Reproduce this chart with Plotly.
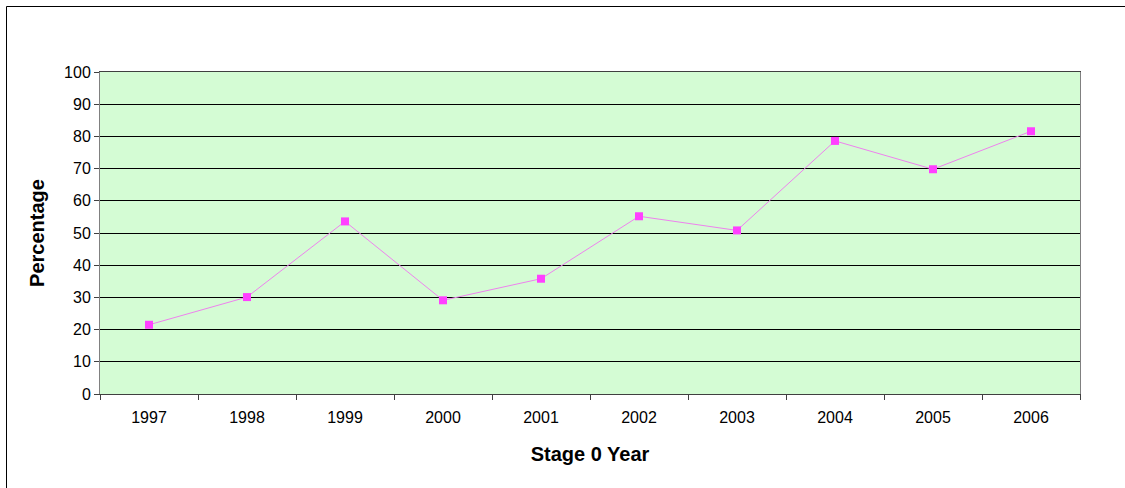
import plotly.graph_objects as go

years = ["1997", "1998", "1999", "2000", "2001", "2002", "2003", "2004", "2005", "2006"]
percentage = [21.5, 30.1, 53.6, 29.1, 35.8, 55.2, 50.8, 78.6, 69.8, 81.6]

W, H = 1125, 488
L, R, T, B = 100, 45, 72, 94
pw, ph = W - L - R, H - T - B

fig = go.Figure()
fig.add_trace(go.Scatter(
    x=years, y=percentage, mode="lines+markers",
    line=dict(color="#EE82EE", width=1),
    marker=dict(symbol="square", size=8, color="#FF40FF"),
    showlegend=False,
))

# outer chart frame: only its top and left edges fall on the page
fx0 = (6.5 - L) / pw
fy1 = (T + ph - 6.5) / ph
fig.add_shape(type="line", xref="paper", yref="paper",
              x0=fx0, x1=(W + 20 - L) / pw, y0=fy1, y1=fy1,
              line=dict(color="#000000", width=1), layer="below")
fig.add_shape(type="line", xref="paper", yref="paper",
              x0=fx0, x1=fx0, y0=fy1, y1=-(H + 20 - (T + ph)) / ph,
              line=dict(color="#000000", width=1), layer="below")

font = dict(family="Liberation Sans, Arial, sans-serif", size=16, color="#000000")

fig.update_layout(
    width=W, height=H,
    margin=dict(l=L, r=R, t=T, b=B),
    paper_bgcolor="white",
    plot_bgcolor="#D4FCD4",
    font=font,
    xaxis=dict(
        type="category", tickson="boundaries", range=[-0.5, 9.5],
        ticks="outside", ticklen=5, tickcolor="#404040",
        showline=True, linecolor="#404040", linewidth=1, mirror=True,
        showgrid=False, tickfont=dict(size=16), ticklabelstandoff=9,
        title=dict(text="<b>Stage 0 Year</b>", font=dict(size=20), standoff=21),
    ),
    yaxis=dict(
        range=[0, 100], dtick=10,
        ticks="outside", ticklen=5, tickcolor="#404040",
        showline=True, linecolor="#808080", linewidth=1, mirror=True,
        showgrid=True, gridcolor="#000000", gridwidth=1,
        zeroline=False, tickfont=dict(size=16),
        title=dict(text="<b>Percentage</b>", font=dict(size=20), standoff=14),
    ),
)

fig.write_html("out.html", config={"displayModeBar": False})

# keep the page free of body margin and scrollbars
css = ("<style>html,body{margin:0;padding:0;overflow:hidden;scrollbar-width:none;}"
       "::-webkit-scrollbar{display:none;width:0;height:0;}</style>")
with open("out.html", encoding="utf-8") as fh:
    page = fh.read()
page = page.replace("<head>", "<head>" + css, 1)
with open("out.html", "w", encoding="utf-8") as fh:
    fh.write(page)
